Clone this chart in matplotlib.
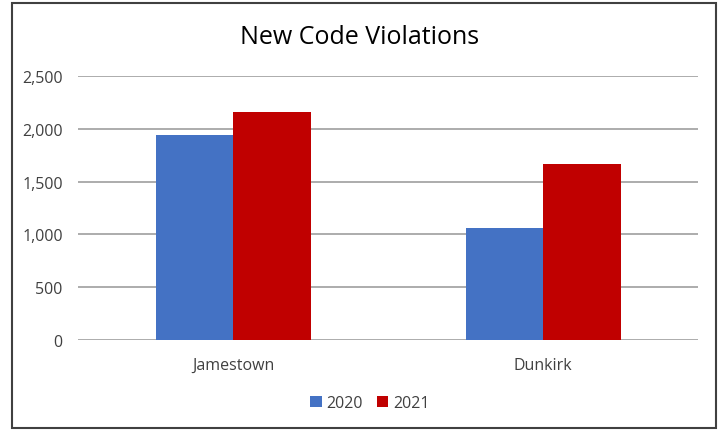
import numpy as np
import matplotlib
matplotlib.use("Agg")
import matplotlib.pyplot as plt
from matplotlib.patches import Rectangle

# data
cities = ["Jamestown", "Dunkirk"]
years = ["2020", "2021"]
v2020 = [1940, 1065]
v2021 = [2160, 1665]
colors = ["#4472C4", "#C00000"]

plt.rcParams['font.family'] = ['Open Sans', 'DejaVu Sans']

fig = plt.figure(figsize=(7.19, 4.31), dpi=100)
ax = fig.add_axes([78 / 719, 1 - 341 / 431, 620 / 719, 264 / 431])

x = np.arange(len(cities))
w = 0.25
ax.bar(x - w / 2, v2020, w, color=colors[0], label=years[0], zorder=3)
ax.bar(x + w / 2, v2021, w, color=colors[1], label=years[1], zorder=3)

ax.set_xlim(-0.5, 1.5)
ax.set_ylim(0, 2500)
ax.set_yticks(range(0, 2501, 500))
ax.set_yticklabels([f"{t:,}" for t in range(0, 2501, 500)])
ax.set_xticks(x)
ax.set_xticklabels(cities)
ax.tick_params(axis='both', length=0, labelsize=11.5, labelcolor="#404040")
ax.tick_params(axis='y', pad=11)
ax.tick_params(axis='x', pad=12)
ax.grid(axis='y', color="#a6a6a6", linewidth=1.3, zorder=0)
for s in ax.spines.values():
    s.set_visible(False)

fig.text(0.5, 1 - 38 / 431, "New Code Violations", ha='center', va='center',
         fontsize=18, color="#000000")

fig.legend(loc='center', bbox_to_anchor=(370 / 719, 1 - 404 / 431), ncol=2,
           frameon=False, fontsize=11.5, handlelength=0.7, handleheight=0.7,
           handletextpad=0.3, columnspacing=0.9, labelcolor="#404040")

# outer frame
fig.patches.append(Rectangle((12 / 719, 2 / 431), 704 / 719, 425 / 431,
                             transform=fig.transFigure, fill=False,
                             edgecolor="#404040", linewidth=1.5))

fig.savefig("out.png", dpi=100)
